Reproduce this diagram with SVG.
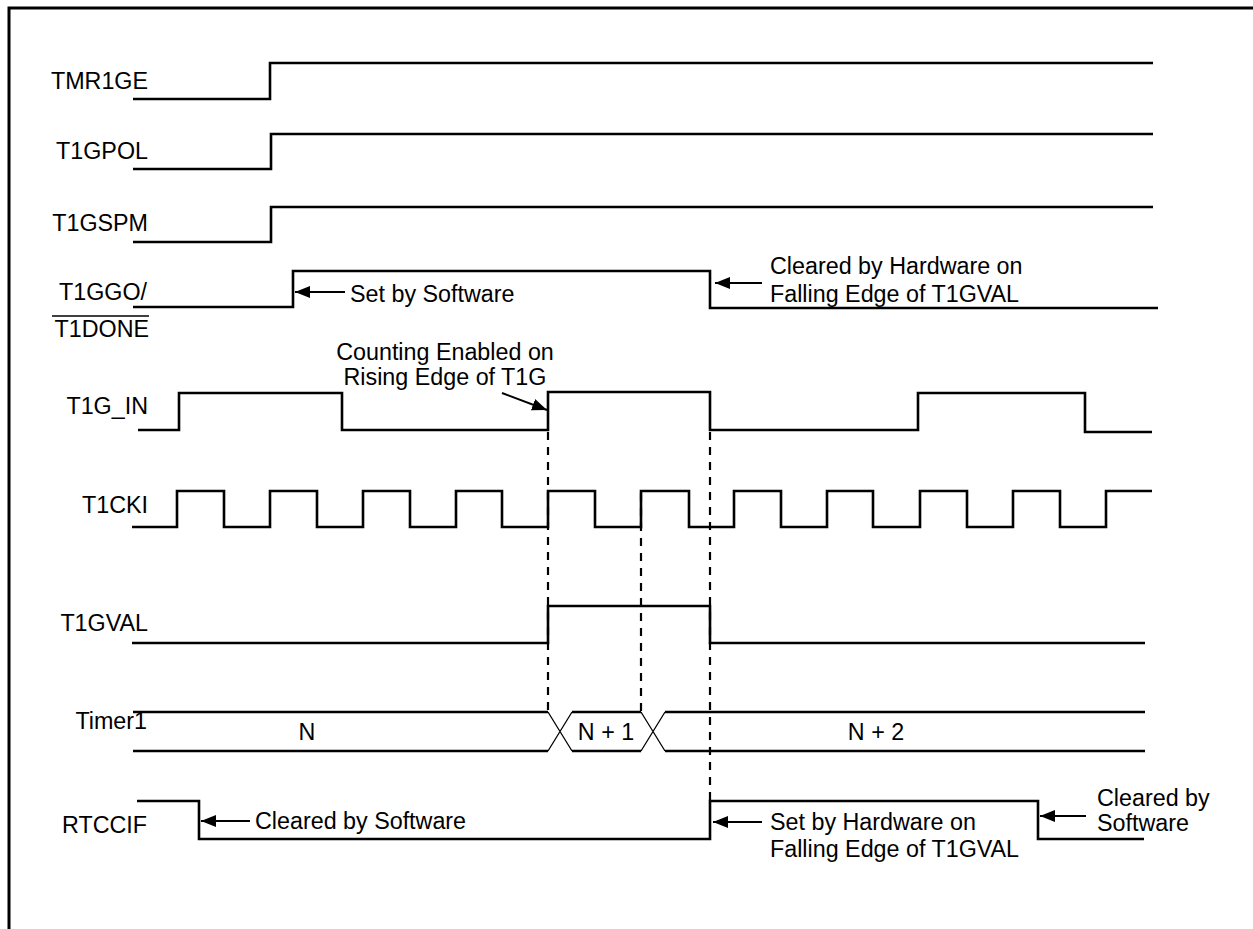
<svg xmlns="http://www.w3.org/2000/svg" width="1253" height="929" viewBox="0 0 1253 929">
<defs>
<marker id="ah" markerWidth="15" markerHeight="12" refX="15" refY="6" orient="auto" markerUnits="userSpaceOnUse"><path d="M0,0 L15,6 L0,12 Z" fill="#000"/></marker>
</defs>
<style>
text{font-family:"Liberation Sans",Arial,sans-serif;font-size:23.3px;fill:#000}
.sig{fill:none;stroke:#000;stroke-width:2.6}
.lbl{text-anchor:end}
.mid{text-anchor:middle}
.dash{stroke:#000;stroke-width:2.2;stroke-dasharray:8,7;fill:none}
.thin{stroke:#000;stroke-width:1.3;fill:none}
.arr{stroke:#000;stroke-width:2;fill:none;marker-end:url(#ah)}
</style>
<rect width="1253" height="929" fill="#fff"/>
<path d="M9,929 V8 H1253" fill="none" stroke="#000" stroke-width="3"/>

<g id="TMR1GE">
<text class="lbl" x="148" y="89">TMR1GE</text>
<path class="sig" d="M133,99 H270 V63 H1153"/>
</g>
<g id="T1GPOL">
<text class="lbl" x="148" y="159">T1GPOL</text>
<path class="sig" d="M133,169 H271 V134 H1153"/>
</g>
<g id="T1GSPM">
<text class="lbl" x="148" y="231">T1GSPM</text>
<path class="sig" d="M133,242 H271 V207 H1153"/>
</g>
<g id="T1GGO">
<text class="lbl" x="147" y="300">T1GGO/</text>
<text class="lbl" x="149" y="337">T1DONE</text>
<line x1="52" y1="316" x2="149" y2="316" stroke="#000" stroke-width="1.5"/>
<path class="sig" d="M133,307 H293 V271 H710 V308 H1158"/>
<text x="350" y="302">Set by Software</text>
<text x="770" y="274">Cleared by Hardware on</text>
<text x="770" y="302">Falling Edge of T1GVAL</text>
</g>
<g id="T1G_IN">
<text class="lbl" x="148" y="414">T1G_IN</text>
<path class="sig" d="M138,430 H179 V393 H342 V430 H548 V392 H710 V430 H918 V393 H1085 V432 H1152"/>
<text class="mid" x="445" y="360">Counting Enabled on</text>
<text class="mid" x="445" y="385">Rising Edge of T1G</text>
</g>
<g id="T1CKI">
<text class="lbl" x="148" y="513">T1CKI</text>
<path class="sig" d="M132,527 H177 V491 H224 V527 H270 V491 H317 V527 H363 V491 H410 V527 H456 V491 H502 V527 H548 V491 H595 V527 H641 V491 H689 V527 H734 V491 H781 V527 H827 V491 H873 V527 H920 V491 H967 V527 H1013 V491 H1060 V527 H1106 V491 H1152"/>
</g>
<g id="T1GVAL">
<text class="lbl" x="148" y="631">T1GVAL</text>
<path class="sig" d="M132,643 H548 V606 H710 V643 H1145"/>
</g>
<g id="Timer1">
<text class="lbl" x="147" y="729">Timer1</text>
<path class="sig" d="M133,712 H548 M133,751 H548 M572,712 H641 M572,751 H641 M665,712 H1145 M665,751 H1145"/>
<path class="thin" d="M548,712 L572,751 M548,751 L572,712 M641,712 L665,751 M641,751 L665,712"/>
<text class="mid" x="307" y="740">N</text>
<text class="mid" x="606" y="740">N + 1</text>
<text class="mid" x="876" y="740">N + 2</text>
</g>
<g id="RTCCIF">
<text class="lbl" x="147" y="833">RTCCIF</text>
<path class="sig" d="M137,801 H199 V839 H710 V801 H1038 V839 H1144"/>
<text x="255" y="829">Cleared by Software</text>
<text x="770" y="830">Set by Hardware on</text>
<text x="770" y="857">Falling Edge of T1GVAL</text>
<text x="1097" y="806">Cleared by</text>
<text x="1097" y="831">Software</text>
</g>

<g id="connectors">
<line class="dash" x1="548" y1="432" x2="548" y2="712"/>
<line class="dash" x1="641" y1="493" x2="641" y2="712"/>
<line class="dash" x1="710" y1="432" x2="710" y2="801"/>
<line class="arr" x1="502" y1="393" x2="547" y2="410"/>
<line class="arr" x1="345" y1="292" x2="295" y2="292"/>
<line class="arr" x1="762" y1="283" x2="715" y2="283"/>
<line class="arr" x1="250" y1="821" x2="201" y2="821"/>
<line class="arr" x1="762" y1="822" x2="713" y2="822"/>
<line class="arr" x1="1086" y1="816" x2="1040" y2="816"/>
</g>
</svg>
